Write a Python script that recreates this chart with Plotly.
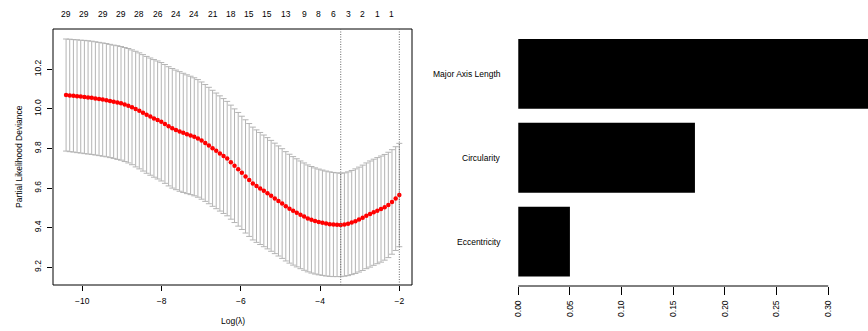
import plotly.graph_objects as go

# ---------------- data: cross-validation curve ----------------
log_lambda = [
    -10.410, -10.318, -10.225, -10.133, -10.040, -9.948, -9.855, -9.763, -9.671, -9.578,
    -9.486, -9.393, -9.301, -9.209, -9.116, -9.024, -8.931, -8.839, -8.746, -8.654,
    -8.562, -8.469, -8.377, -8.284, -8.192, -8.100, -8.007, -7.915, -7.822, -7.730,
    -7.637, -7.545, -7.453, -7.360, -7.268, -7.175, -7.083, -6.990, -6.898, -6.806,
    -6.713, -6.621, -6.528, -6.436, -6.344, -6.251, -6.159, -6.066, -5.974, -5.881,
    -5.789, -5.697, -5.604, -5.512, -5.419, -5.327, -5.235, -5.142, -5.050, -4.957,
    -4.865, -4.772, -4.680, -4.588, -4.495, -4.403, -4.310, -4.218, -4.126, -4.033,
    -3.941, -3.848, -3.756, -3.663, -3.571, -3.479, -3.386, -3.294, -3.201, -3.109,
    -3.017, -2.924, -2.832, -2.739, -2.647, -2.555, -2.462, -2.370, -2.277, -2.185,
    -2.092, -2.000,
]

cv_mean = [
    10.070, 10.068, 10.066, 10.064, 10.062, 10.060, 10.058, 10.056, 10.053, 10.050,
    10.047, 10.044, 10.040, 10.036, 10.032, 10.028, 10.022, 10.016, 10.008, 9.999,
    9.990, 9.980, 9.970, 9.961, 9.952, 9.944, 9.935, 9.924, 9.912, 9.902,
    9.894, 9.886, 9.879, 9.872, 9.866, 9.859, 9.851, 9.840, 9.828, 9.815,
    9.801, 9.788, 9.775, 9.762, 9.749, 9.731, 9.713, 9.695, 9.677, 9.659,
    9.641, 9.623, 9.610, 9.598, 9.586, 9.574, 9.561, 9.548, 9.535, 9.522,
    9.508, 9.496, 9.485, 9.475, 9.465, 9.456, 9.447, 9.440, 9.434, 9.429,
    9.425, 9.421, 9.418, 9.416, 9.415, 9.414, 9.416, 9.420, 9.426, 9.433,
    9.441, 9.450, 9.460, 9.469, 9.478, 9.486, 9.494, 9.503, 9.515, 9.530,
    9.547, 9.565,
]

cv_se = [
    0.283, 0.284, 0.284, 0.285, 0.285, 0.286, 0.286, 0.286, 0.286, 0.286,
    0.286, 0.286, 0.286, 0.286, 0.287, 0.287, 0.288, 0.289, 0.290, 0.292,
    0.293, 0.294, 0.295, 0.296, 0.297, 0.298, 0.299, 0.300, 0.301, 0.302,
    0.302, 0.302, 0.301, 0.300, 0.299, 0.298, 0.297, 0.296, 0.295, 0.294,
    0.293, 0.292, 0.291, 0.290, 0.289, 0.288, 0.287, 0.287, 0.286, 0.286,
    0.285, 0.285, 0.284, 0.283, 0.282, 0.281, 0.280, 0.279, 0.278, 0.277,
    0.276, 0.275, 0.274, 0.273, 0.272, 0.271, 0.270, 0.269, 0.268, 0.267,
    0.266, 0.265, 0.264, 0.263, 0.262, 0.261, 0.261, 0.262, 0.263, 0.264,
    0.265, 0.266, 0.267, 0.268, 0.268, 0.268, 0.268, 0.267, 0.266, 0.264,
    0.262, 0.261,
]

# number of non-zero coefficients shown on the top axis (index into log_lambda)
nz_label_index = [0, 5, 10, 15, 20, 25, 30, 35, 40, 45, 50, 55, 60, 65, 69, 73, 77, 81, 85, 89]
nz_labels = ["29", "29", "29", "29", "28", "26", "24", "24", "21", "18",
             "15", "15", "13", "9", "8", "6", "3", "2", "1", "1"]

lambda_min_log = -3.479
lambda_1se_log = -2.000

x_ticks = [-10, -8, -6, -4, -2]
y_ticks = [9.2, 9.4, 9.6, 9.8, 10.0, 10.2]

# ---------------- data: feature importance ----------------
features = ["Eccentricity", "Circularity", "Major Axis Length"]
importance = [0.050, 0.171, 0.345]
imp_ticks = [0.00, 0.05, 0.10, 0.15, 0.20, 0.25, 0.30]
imp_tick_text = ["0.00", "0.05", "0.10", "0.15", "0.20", "0.25", "0.30"]

# ---------------- layout geometry ----------------
W, H = 868, 331
FONT = "Liberation Sans, Arial, Helvetica, sans-serif"
FS = 8.5

L_x0, L_x1 = 53 / W, 412 / W
L_y0, L_y1 = 1 - 285 / H, 1 - 29 / H
R_x0, R_x1 = 510 / W, 1.0
R_y0, R_y1 = 1 - 286 / H, 1 - 29.5 / H

fig = go.Figure()

fig.add_trace(go.Scatter(
    x=log_lambda, y=cv_mean, mode="markers",
    marker=dict(color="red", size=4.5, line=dict(width=0)),
    error_y=dict(type="data", array=cv_se, visible=True,
                 color="#b4b4b4", thickness=1, width=3),
    xaxis="x", yaxis="y", showlegend=False, hoverinfo="skip",
))

fig.add_trace(go.Bar(
    x=importance, y=features, orientation="h",
    marker=dict(color="black", line=dict(width=0)),
    xaxis="x2", yaxis="y2", showlegend=False, hoverinfo="skip",
))

axis_common = dict(showgrid=False, zeroline=False, showline=False,
                   ticks="outside", tickwidth=1, tickcolor="black",
                   tickfont=dict(family=FONT, size=FS, color="black"))

fig.update_layout(
    width=W, height=H,
    margin=dict(l=0, r=0, t=0, b=0),
    paper_bgcolor="white", plot_bgcolor="white",
    font=dict(family=FONT, size=FS, color="black"),
    bargap=0.2 / 1.2,
    xaxis=dict(domain=[L_x0, L_x1], range=[-10.74, -1.68], anchor="y",
               tickvals=x_ticks, ticklen=5, ticklabelstandoff=3, automargin=False,
               **axis_common),
    yaxis=dict(domain=[L_y0, L_y1], range=[9.1106, 10.4035], anchor="x",
               tickvals=y_ticks, tickformat=".1f", ticklen=5, tickangle=-90,
               ticklabelstandoff=3, automargin=False, **axis_common),
    xaxis2=dict(domain=[R_x0, R_x1], range=[-0.0080, 0.3385], anchor="y2",
                tickvals=imp_ticks, ticktext=imp_tick_text, ticklen=8,
                tickangle=-90, ticklabelstandoff=2, automargin=False, **axis_common),
    yaxis2=dict(domain=[R_y0, R_y1], range=[-0.53, 2.53], anchor="x2",
                type="category", categoryorder="array", categoryarray=features,
                showticklabels=False, ticks="", showgrid=False, zeroline=False,
                showline=False, automargin=False),
)

shapes = [
    # box around the CV plot
    dict(type="rect", xref="paper", yref="paper", x0=L_x0, x1=L_x1, y0=L_y0, y1=L_y1,
         line=dict(color="black", width=1), layer="above"),
    # lambda.min and lambda.1se dotted lines
    dict(type="line", xref="x", yref="y domain", x0=lambda_min_log, x1=lambda_min_log,
         y0=0, y1=1, line=dict(color="#666666", width=1, dash="1px,1.5px"), layer="above"),
    dict(type="line", xref="x", yref="y domain", x0=lambda_1se_log, x1=lambda_1se_log,
         y0=0, y1=1, line=dict(color="#666666", width=1, dash="1px,1.5px"), layer="above"),
    # bottom axis line of the bar plot (spans the tick range only)
    dict(type="line", xref="x2", yref="paper", x0=imp_ticks[0], x1=imp_ticks[-1],
         y0=R_y0, y1=R_y0, line=dict(color="black", width=1)),
]
fig.update_layout(shapes=shapes)

annotations = []
for idx, lab in zip(nz_label_index, nz_labels):
    annotations.append(dict(x=log_lambda[idx], y=1 - 14 / H, xref="x", yref="paper",
                            text=lab, showarrow=False, xanchor="center", yanchor="middle",
                            font=dict(family=FONT, size=FS, color="black")))
for feat in features:
    annotations.append(dict(x=503 / W, y=feat, xref="paper", yref="y2", text=feat,
                            showarrow=False, xanchor="right", yanchor="middle",
                            font=dict(family=FONT, size=FS, color="black")))
annotations.append(dict(x=(L_x0 + L_x1) / 2, y=1 - 320.5 / H, xref="paper", yref="paper",
                        text="Log(λ)", showarrow=False, xanchor="center", yanchor="middle",
                        font=dict(family=FONT, size=FS, color="black")))
annotations.append(dict(x=19 / W, y=(L_y0 + L_y1) / 2, xref="paper", yref="paper",
                        text="Partial Likelihood Deviance", textangle=-90, showarrow=False,
                        xanchor="center", yanchor="middle",
                        font=dict(family=FONT, size=FS, color="black")))
fig.update_layout(annotations=annotations)

fig.write_html("out.html",
               config={"displayModeBar": False, "staticPlot": True},
               post_script="document.body.style.margin='0px';document.body.style.padding='0px';")
